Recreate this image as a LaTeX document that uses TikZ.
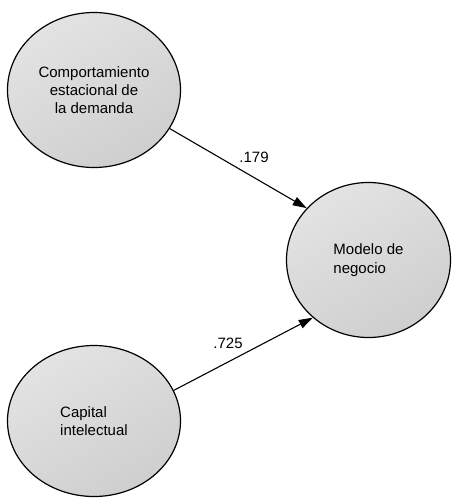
\documentclass[tikz,border=0pt]{standalone}
\usepackage{fontspec}
\setmainfont{Liberation Sans}
\usetikzlibrary{shapes.geometric,arrows.meta}
\begin{document}
\begin{tikzpicture}[x=1pt,y=-1pt,
  latent/.style={ellipse,draw=black,line width=1.2pt,inner sep=0pt,
    shading=axis,top color=white!89!black,bottom color=white!81!black,shading angle=30,
    font=\fontsize{15}{18.3}\selectfont},
  path/.style={line width=1.1pt,-{Triangle[length=14pt,width=9pt]}},
  coef/.style={font=\fontsize{15}{18}\selectfont,inner sep=0pt}]
\useasboundingbox (0,0) rectangle (452,498);
\node[latent,minimum width=173pt,minimum height=155pt,align=center] (demanda) at (94,90)
  {Comportamiento\\estacional de\\la demanda};
\node[latent,minimum width=164pt,minimum height=155pt,align=left] (modelo) at (368.5,260)
  {Modelo de\\negocio};
\node[latent,minimum width=173pt,minimum height=151pt,align=left] (capital) at (94,421)
  {Capital\\intelectual};
\draw[path] (demanda.-27) -- (modelo.140.8);
\draw[path] (capital.21.7) -- (modelo.226.8);
\node[coef] (c1) at (254,157) {.179};
\node[coef] (c2) at (228,343) {.725};
\end{tikzpicture}
\end{document}
